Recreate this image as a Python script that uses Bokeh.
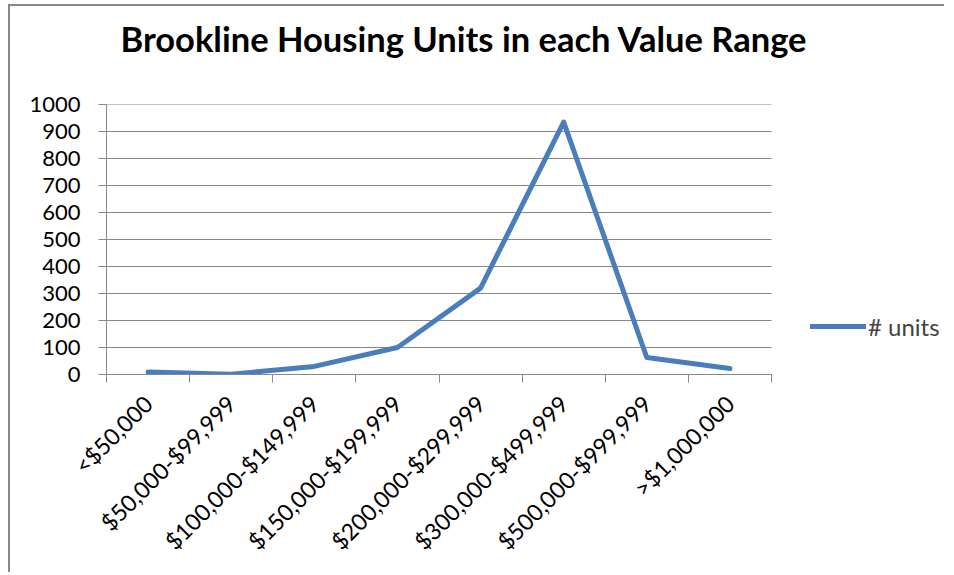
import math
from bokeh.plotting import figure
from bokeh.models import FixedTicker, Range1d, Legend, LegendItem, ColumnDataSource, Title
from bokeh.embed import file_html
from bokeh.resources import INLINE

# ---- data ----
categories = ["<$50,000", "$50,000-$99,999", "$100,000-$149,999", "$150,000-$199,999",
              "$200,000-$299,999", "$300,000-$499,999", "$500,000-$999,999", ">$1,000,000"]
units = [9, 1, 30, 100, 320, 935, 63, 22]
y_ticks = [0, 100, 200, 300, 400, 500, 600, 700, 800, 900, 1000]
series_name = "# units"
title_text = "Brookline Housing Units in each Value Range"

GRAY = "#878787"
BLUE = "#4a7ebb"
FONT = "Lato"

# layout (pixels)
W, H = 936, 568
BL, BT, BB = 96, 98, 200
PLOT_W = 665                     # width of the category area
FRAME_W = W - BL                 # frame extends to the right edge (legend lives there)
n = len(categories)
x_end = n * FRAME_W / PLOT_W

xpos = [i + 0.5 for i in range(n)]
src = ColumnDataSource(dict(x=xpos, y=units, cat=categories))

p = figure(width=W, height=H, output_backend="svg", toolbar_location=None,
           x_range=Range1d(0, x_end), y_range=Range1d(0, 1000),
           min_border_left=BL, min_border_right=0, min_border_top=BT, min_border_bottom=BB)
p.styles = {"position": "absolute", "left": "8px", "top": "4px",
            "border-left": "2px solid #878787", "border-top": "2px solid #878787"}
p.outline_line_color = None
p.background_fill_color = "white"
p.border_fill_color = "white"

# spacer (closest to the plot area) and the chart title above it
p.add_layout(Title(text=" ", text_font=FONT, text_font_size="30px", standoff=5), "above")
p.add_layout(Title(text=title_text, text_font=FONT, text_font_style="bold",
                   text_font_size="34.5px", text_color="black", align="left", offset=14,
                   standoff=5), "above")

# horizontal gridlines limited to the category area
gsrc = ColumnDataSource(dict(x0=[0] * len(y_ticks), x1=[n] * len(y_ticks), y=y_ticks))
p.segment("x0", "y", "x1", "y", source=gsrc, line_color=GRAY, line_width=1)

r = p.line("x", "y", source=src, line_color=BLUE, line_width=5, line_cap="round", line_join="round")

p.xgrid.visible = False
p.ygrid.visible = False

# y axis
p.yaxis.ticker = FixedTicker(ticks=y_ticks)
p.yaxis.axis_line_color = GRAY
p.yaxis.major_tick_line_color = GRAY
p.yaxis.major_tick_out = 8
p.yaxis.major_tick_in = 0
p.yaxis.minor_tick_line_color = None
p.yaxis.major_label_standoff = 18
p.yaxis.major_label_text_font = FONT
p.yaxis.major_label_text_font_size = "22px"
p.yaxis.major_label_text_color = "black"

# x axis
p.xaxis.bounds = (0, n)
p.xaxis.ticker = FixedTicker(ticks=xpos, minor_ticks=list(range(n + 1)))
p.xaxis.major_label_overrides = {x: c for x, c in zip(xpos, categories)}
p.xaxis.axis_line_color = GRAY
p.xaxis.major_tick_line_color = None
p.xaxis.minor_tick_line_color = GRAY
p.xaxis.minor_tick_out = 8
p.xaxis.minor_tick_in = 0
p.xaxis.major_label_orientation = math.pi / 4
p.xaxis.major_label_standoff = 17
p.xaxis.major_label_text_font = FONT
p.xaxis.major_label_text_font_size = "23px"
p.xaxis.major_label_text_color = "black"

legend = Legend(items=[LegendItem(label=series_name, renderers=[r])],
                location=(704, 33), padding=0, margin=0, spacing=0,
                glyph_width=56, glyph_height=30, label_height=30, label_standoff=2,
                label_text_font=FONT, label_text_font_size="24px",
                border_line_color=None, background_fill_alpha=0)
p.add_layout(legend, "center")

open("out.html", "w").write(file_html(p, INLINE))
